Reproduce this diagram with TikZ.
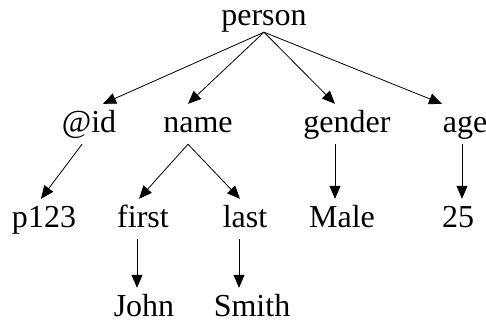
\documentclass[tikz,border=0pt]{standalone}
\usepackage{fontspec}
\setmainfont{Liberation Serif}
\usetikzlibrary{arrows.meta}
\begin{document}
\begin{tikzpicture}[x=1pt,y=-1pt,
  lbl/.style={inner sep=0pt,text height=28pt,text depth=12pt,font=\fontsize{32}{36}\selectfont},
  leaf/.style={lbl,text depth=0pt},
  arr/.style={-{Triangle[length=13pt,width=11pt]},line width=0.8pt}]
\useasboundingbox (0,0) rectangle (486,321);
\node[lbl,anchor=base] (person) at (264,26) {person};
\node[lbl,anchor=base] (id) at (89,132) {@id};
\node[lbl,anchor=base] (name) at (198,132) {name};
\node[lbl,anchor=base] (gender) at (347,132) {gender};
\node[lbl,anchor=base] (age) at (465,132) {age};
\node[lbl,anchor=base] (p123) at (44,227) {p123};
\node[lbl,anchor=base] (first) at (143,227) {first};
\node[lbl,anchor=base] (last) at (245,227) {last};
\node[lbl,anchor=base] (male) at (342,227) {Male};
\node[lbl,anchor=base] (n25) at (458,227) {25};
\node[leaf,anchor=base] (john) at (144,316) {John};
\node[leaf,anchor=base] (smith) at (252,316) {Smith};
\draw[arr] ([yshift=6pt]person.south) -- ([xshift=14pt]id.north);
\draw[arr] ([yshift=6pt]person.south) -- ([xshift=-10pt]name.north);
\draw[arr] ([yshift=6pt]person.south) -- ([xshift=-12pt]gender.north);
\draw[arr] ([yshift=6pt]person.south) -- ([xshift=-23pt]age.north);
\draw[arr] ([xshift=-7pt]id.south) -- ([xshift=-3pt]p123.north);
\draw[arr] ([xshift=-10pt]name.south) -- ([xshift=-4pt]first.north);
\draw[arr] ([xshift=-10pt]name.south) -- ([xshift=-5pt]last.north);
\draw[arr] ([xshift=-12pt]gender.south) -- ([xshift=-7pt]male.north);
\draw[arr] ([xshift=-3pt]age.south) -- ([xshift=4pt]n25.north);
\draw[arr] ([xshift=-6pt]first.south) -- ([xshift=-7pt]john.north);
\draw[arr] ([xshift=-6pt]last.south) -- ([xshift=-13pt]smith.north);
\end{tikzpicture}
\end{document}
